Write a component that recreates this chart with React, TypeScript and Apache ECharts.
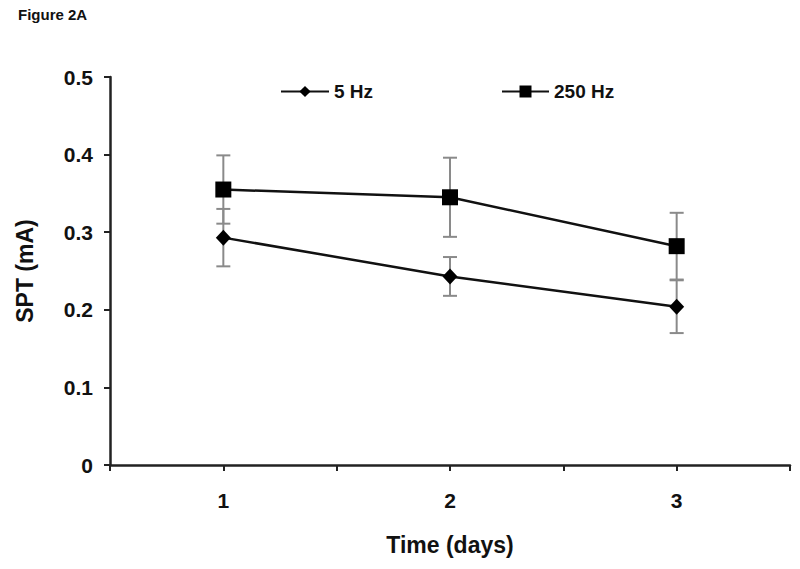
import React, { useEffect, useRef } from "react";
import * as echarts from "echarts";

const days = [1, 2, 3];
const hz5 = [0.293, 0.243, 0.204];
const hz5Err = [0.037, 0.025, 0.034];
const hz250 = [0.355, 0.345, 0.282];
const hz250Err = [0.044, 0.051, 0.043];
const seriesNames = ["5 Hz", "250 Hz"];

const FONT = "'Liberation Sans', Arial, sans-serif";

export default function App() {
  const ref = useRef<HTMLDivElement>(null);
  useEffect(() => {
    if (!ref.current) return;
    const chart = echarts.init(ref.current, null, { renderer: "svg" });

    const errData = (vals: number[], errs: number[]) =>
      days.map((d, i) => [d, vals[i] + errs[i], vals[i] - errs[i]]);

    const renderErr = (params: any, api: any) => {
      const x = api.value(0);
      const hi = api.coord([x, api.value(1)]);
      const lo = api.coord([x, api.value(2)]);
      const cw = 7;
      const style = { stroke: "#8a8a8a", lineWidth: 2 };
      return {
        type: "group",
        children: [
          { type: "line", shape: { x1: hi[0], y1: hi[1], x2: lo[0], y2: lo[1] }, style },
          { type: "line", shape: { x1: hi[0] - cw, y1: hi[1], x2: hi[0] + cw, y2: hi[1] }, style },
          { type: "line", shape: { x1: lo[0] - cw, y1: lo[1], x2: lo[0] + cw, y2: lo[1] }, style },
        ],
      };
    };

    const legendText = { fontFamily: FONT, fontWeight: "bold", fontSize: 19, color: "#111" };

    const option: any = {
      animation: false,
      backgroundColor: "#ffffff",
      textStyle: { fontFamily: FONT },
      graphic: [
        {
          type: "text",
          left: 18,
          top: 7,
          style: { text: "Figure 2A", font: `bold 15px ${FONT}`, fill: "#111" },
        },
      ],
      legend: [
        {
          data: [seriesNames[0]],
          left: 275,
          top: 77,
          itemWidth: 48,
          itemHeight: 14,
          itemGap: 0,
          textStyle: legendText,
        },
        {
          data: [seriesNames[1]],
          left: 496,
          top: 77,
          itemWidth: 47,
          itemHeight: 15,
          itemGap: 0,
          textStyle: legendText,
        },
      ],
      grid: { left: 110, right: 10, top: 77, bottom: 104, containLabel: false },
      xAxis: {
        type: "value",
        min: 0.5,
        max: 3.5,
        interval: 0.5,
        name: "Time (days)",
        nameLocation: "middle",
        nameGap: 68,
        nameTextStyle: { fontFamily: FONT, fontWeight: "bold", fontSize: 23, color: "#111" },
        axisLine: { lineStyle: { color: "#222", width: 2.5 } },
        axisTick: { show: true, length: 6, lineStyle: { color: "#222", width: 2 } },
        splitLine: { show: false },
        axisLabel: {
          fontFamily: FONT,
          fontWeight: "bold",
          fontSize: 21,
          color: "#111",
          margin: 25,
          formatter: (v: number) => (Number.isInteger(v) ? String(v) : ""),
        },
      },
      yAxis: {
        type: "value",
        min: 0,
        max: 0.5,
        interval: 0.1,
        name: "SPT (mA)",
        nameLocation: "middle",
        nameGap: 74,
        nameTextStyle: { fontFamily: FONT, fontWeight: "bold", fontSize: 23, color: "#111" },
        axisLine: { show: true, lineStyle: { color: "#222", width: 2.5 } },
        axisTick: { show: true, length: 6, lineStyle: { color: "#222", width: 2 } },
        splitLine: { show: false },
        axisLabel: {
          fontFamily: FONT,
          fontWeight: "bold",
          fontSize: 21,
          color: "#111",
          margin: 17,
          formatter: (v: number) => (v === 0 ? "0" : v.toFixed(1)),
        },
      },
      series: [
        {
          type: "custom",
          name: "err5",
          renderItem: renderErr,
          data: errData(hz5, hz5Err),
          encode: { x: 0, y: [1, 2] },
          z: 1,
          silent: true,
        },
        {
          type: "custom",
          name: "err250",
          renderItem: renderErr,
          data: errData(hz250, hz250Err),
          encode: { x: 0, y: [1, 2] },
          z: 1,
          silent: true,
        },
        {
          type: "line",
          name: seriesNames[0],
          data: days.map((d, i) => [d, hz5[i]]),
          symbol: "diamond",
          symbolSize: [15, 16],
          lineStyle: { color: "#111", width: 2.5 },
          itemStyle: { color: "#000" },
          z: 3,
        },
        {
          type: "line",
          name: seriesNames[1],
          data: days.map((d, i) => [d, hz250[i]]),
          symbol: "rect",
          symbolSize: 16,
          lineStyle: { color: "#111", width: 2.5 },
          itemStyle: { color: "#000" },
          z: 3,
        },
      ],
    };
    chart.setOption(option);
    return () => chart.dispose();
  }, []);
  return <div ref={ref} style={{ width: 800, height: 569, position: "absolute", left: 0, top: 0 }} />;
}
